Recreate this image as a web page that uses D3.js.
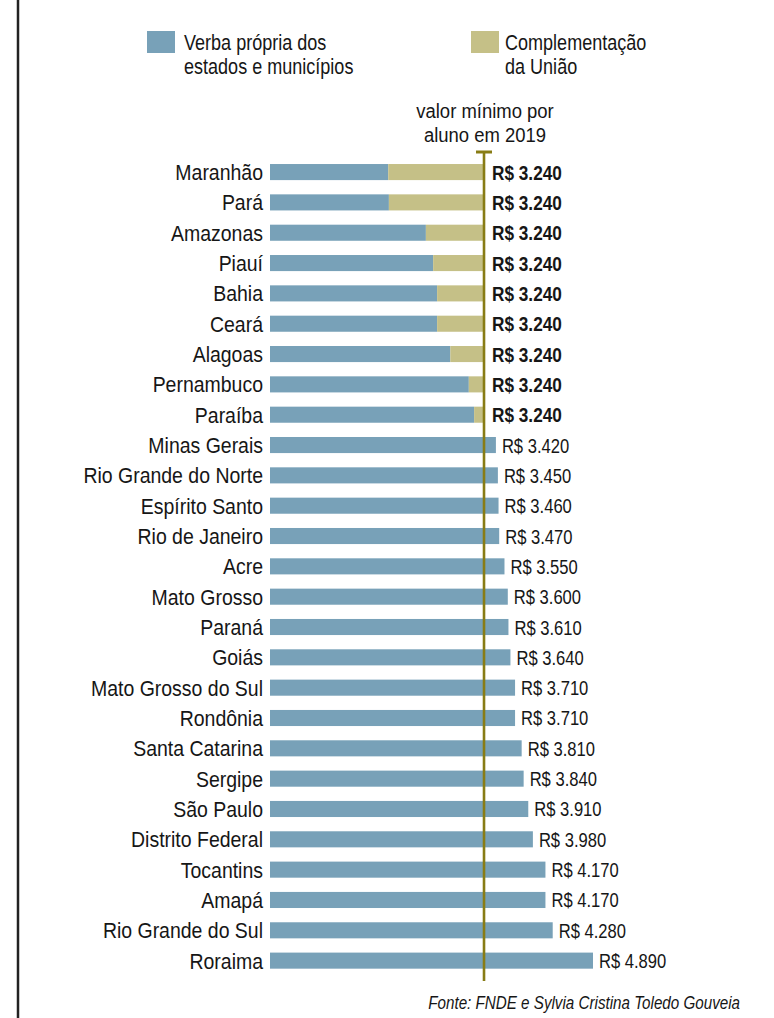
<!DOCTYPE html>
<html>
<head>
<meta charset="utf-8">
<script src="https://cdn.jsdelivr.net/npm/d3@7"></script>
<style>
  body { margin: 0; background: #fff; }
  svg text { font-family: "Liberation Sans", Arial, sans-serif; fill: #161616; }
</style>
</head>
<body>
<div id="chart"></div>
<script>
// valores por aluno (R$)
var states = ["Maranhão", "Pará", "Amazonas", "Piauí", "Bahia", "Ceará", "Alagoas", "Pernambuco", "Paraíba",
  "Minas Gerais", "Rio Grande do Norte", "Espírito Santo", "Rio de Janeiro", "Acre", "Mato Grosso", "Paraná",
  "Goiás", "Mato Grosso do Sul", "Rondônia", "Santa Catarina", "Sergipe", "São Paulo", "Distrito Federal",
  "Tocantins", "Amapá", "Rio Grande do Sul", "Roraima"]
var ownFunds = [1790, 1800, 2360, 2470, 2530, 2530, 2730, 3010, 3090,
  3420, 3450, 3460, 3470, 3550, 3600, 3610, 3640, 3710, 3710, 3810, 3840, 3910, 3980, 4170, 4170, 4280, 4890]
var totals = [3240, 3240, 3240, 3240, 3240, 3240, 3240, 3240, 3240,
  3420, 3450, 3460, 3470, 3550, 3600, 3610, 3640, 3710, 3710, 3810, 3840, 3910, 3980, 4170, 4170, 4280, 4890]
var minimum = 3240
var legendLabels = [["Verba própria dos", "estados e municípios"], ["Complementação", "da União"]]

var blue = "#78a1b8", khaki = "#c5c087", olive = "#887c15"
var W = 774, H = 1018

var svg = d3.select("#chart").append("svg").attr("width", W).attr("height", H)

var fmt = function (v) { return "R$ " + d3.format(",")(v).replace(",", ".") }

// texto condensado (a fonte original é uma condensada)
var place = function (sel, fx, fy, sx) {
  return sel.attr("transform", (d, i) => "translate(" + fx(d, i) + "," + fy(d, i) + ") scale(" + sx + ",1)")
}

var x = d3.scaleLinear().domain([0, d3.max(totals)]).range([270, 593])
var y = d3.scaleBand().domain(states).range([156.9, 975.8]).paddingInner(0.47).paddingOuter(0.235)

var data = states.map(function (s, i) {
  return { state: s, own: ownFunds[i], total: totals[i] }
})

// borda esquerda
svg.append("line").attr("x1", 18).attr("x2", 18).attr("y1", 0).attr("y2", H)
  .attr("stroke", "#222").attr("stroke-width", 2.5)

// legenda
var leg = svg.append("g")
var legX = [147, 471]
;[blue, khaki].forEach(function (c, i) {
  leg.append("rect").attr("x", legX[i]).attr("y", 31).attr("width", 28).attr("height", 22).attr("fill", c)
  legendLabels[i].forEach(function (t, j) {
    place(leg.append("text"), () => legX[i] + 37 - i * 3, () => 50 + j * 24, 0.82)
      .style("font-size", "22px").text(t)
  })
})

// rótulos dos estados
place(svg.selectAll(".lab").data(data).enter().append("text"),
  () => 263, d => y(d.state) + y.bandwidth() / 2 + 8, 0.885)
  .attr("text-anchor", "end").style("font-size", "22px").text(d => d.state)

// barras
svg.selectAll(".own").data(data).enter().append("rect")
  .attr("x", x(0)).attr("y", d => y(d.state))
  .attr("width", d => x(d.own) - x(0)).attr("height", y.bandwidth()).attr("fill", blue)
svg.selectAll(".comp").data(data.filter(d => d.total > d.own)).enter().append("rect")
  .attr("x", d => x(d.own)).attr("y", d => y(d.state))
  .attr("width", d => x(d.total) - x(d.own)).attr("height", y.bandwidth()).attr("fill", khaki)

// linha do valor mínimo
var xm = x(minimum)
svg.append("line").attr("x1", xm).attr("x2", xm).attr("y1", 151).attr("y2", 981)
  .attr("stroke", olive).attr("stroke-width", 2.6)
svg.append("line").attr("x1", xm - 8).attr("x2", xm + 8).attr("y1", 152).attr("y2", 152)
  .attr("stroke", olive).attr("stroke-width", 3)
place(svg.append("text"), () => xm + 1, () => 118, 0.88)
  .attr("text-anchor", "middle").style("font-size", "21px").text("valor mínimo por")
place(svg.append("text"), () => xm + 1, () => 142, 0.88)
  .attr("text-anchor", "middle").style("font-size", "21px").text("aluno em 2019")

// valores
place(svg.selectAll(".val").data(data).enter().append("text"),
  d => d.total > minimum ? x(d.total) + 6 : xm + 8,
  d => y(d.state) + y.bandwidth() / 2 + 7.5, d => 0)
  .attr("transform", d => "translate(" + (d.total > minimum ? x(d.total) + 6 : xm + 8) + "," +
    (y(d.state) + y.bandwidth() / 2 + 7.5) + ") scale(" + (d.total > minimum ? 0.79 : 0.82) + ",1)")
  .style("font-size", "21px")
  .style("font-weight", d => d.total > minimum ? "normal" : "bold")
  .text(d => fmt(d.total))

// fonte
place(svg.append("text"), () => 740, () => 1009, 0.8)
  .attr("text-anchor", "end")
  .style("font-size", "19px").style("font-style", "italic")
  .text("Fonte: FNDE e Sylvia Cristina Toledo Gouveia")
</script>
</body>
</html>
